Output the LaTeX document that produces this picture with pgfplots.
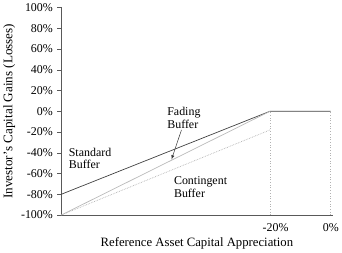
\documentclass[border=0pt]{standalone}
\usepackage{fontspec}
\setmainfont{Liberation Serif}
\usepackage{pgfplots}
\pgfplotsset{compat=1.18}
\begin{document}
\begin{tikzpicture}[x=1pt,y=1pt]
\begin{axis}[
  scale only axis, width=273pt, height=209pt,
  xmin=-89, xmax=0.6, ymin=-100, ymax=100,
  axis lines*=left, axis line style={gray!70!black, line width=0.6pt},
  xtick={-20,0}, xticklabels={\hspace*{11pt}-20\%,0\%},
  ytick={-100,-80,...,100},
  yticklabels={-100\%,-80\%,-60\%,-40\%,-20\%,0\%,20\%,40\%,60\%,80\%,100\%},
  tick style={gray!70!black},
  x tick style={draw=none},
  major tick length=4pt,
  tick align=outside,
  every tick label/.style={font=\fontsize{12}{14}\selectfont},
  yticklabel style={xshift=-1pt},
  xticklabel style={yshift=-1pt},
  xlabel={Reference Asset Capital Appreciation},
  ylabel={Investor's Capital Gains (Losses)},
  xlabel style={font=\fontsize{12.8}{14}\selectfont, yshift=1pt},
  ylabel style={font=\fontsize{13.2}{14}\selectfont, yshift=-1pt},
  clip=false,
]
\addplot[gray!60, dotted, line width=0.7pt] coordinates {(-20,-100) (-20,0)};
\addplot[gray!60, dotted, line width=0.7pt] coordinates {(0,-100) (0,0)};
\addplot[black!75, line width=0.7pt] coordinates {(-89,-80) (-20,0) (0,0)};
\addplot[gray!55, line width=0.7pt] coordinates {(-89,-100) (-20,0)};
\addplot[gray!60, densely dotted, line width=0.7pt] coordinates {(-89,-100) (-20,-18)};
\node[align=left, font=\fontsize{12}{13}\selectfont] at (axis cs:-79.5,-45.5) {Standard\\Buffer};
\node[align=left, font=\fontsize{12}{13}\selectfont] at (axis cs:-48.5,-6.5) {Fading\\Buffer};
\node[align=left, font=\fontsize{12}{13}\selectfont] at (axis cs:-43,-73) {Contingent\\Buffer};
\draw[-latex, black!80, line width=0.5pt] (axis cs:-49.3,-18) -- (axis cs:-52.6,-46.5);
\end{axis}
\end{tikzpicture}
\end{document}
